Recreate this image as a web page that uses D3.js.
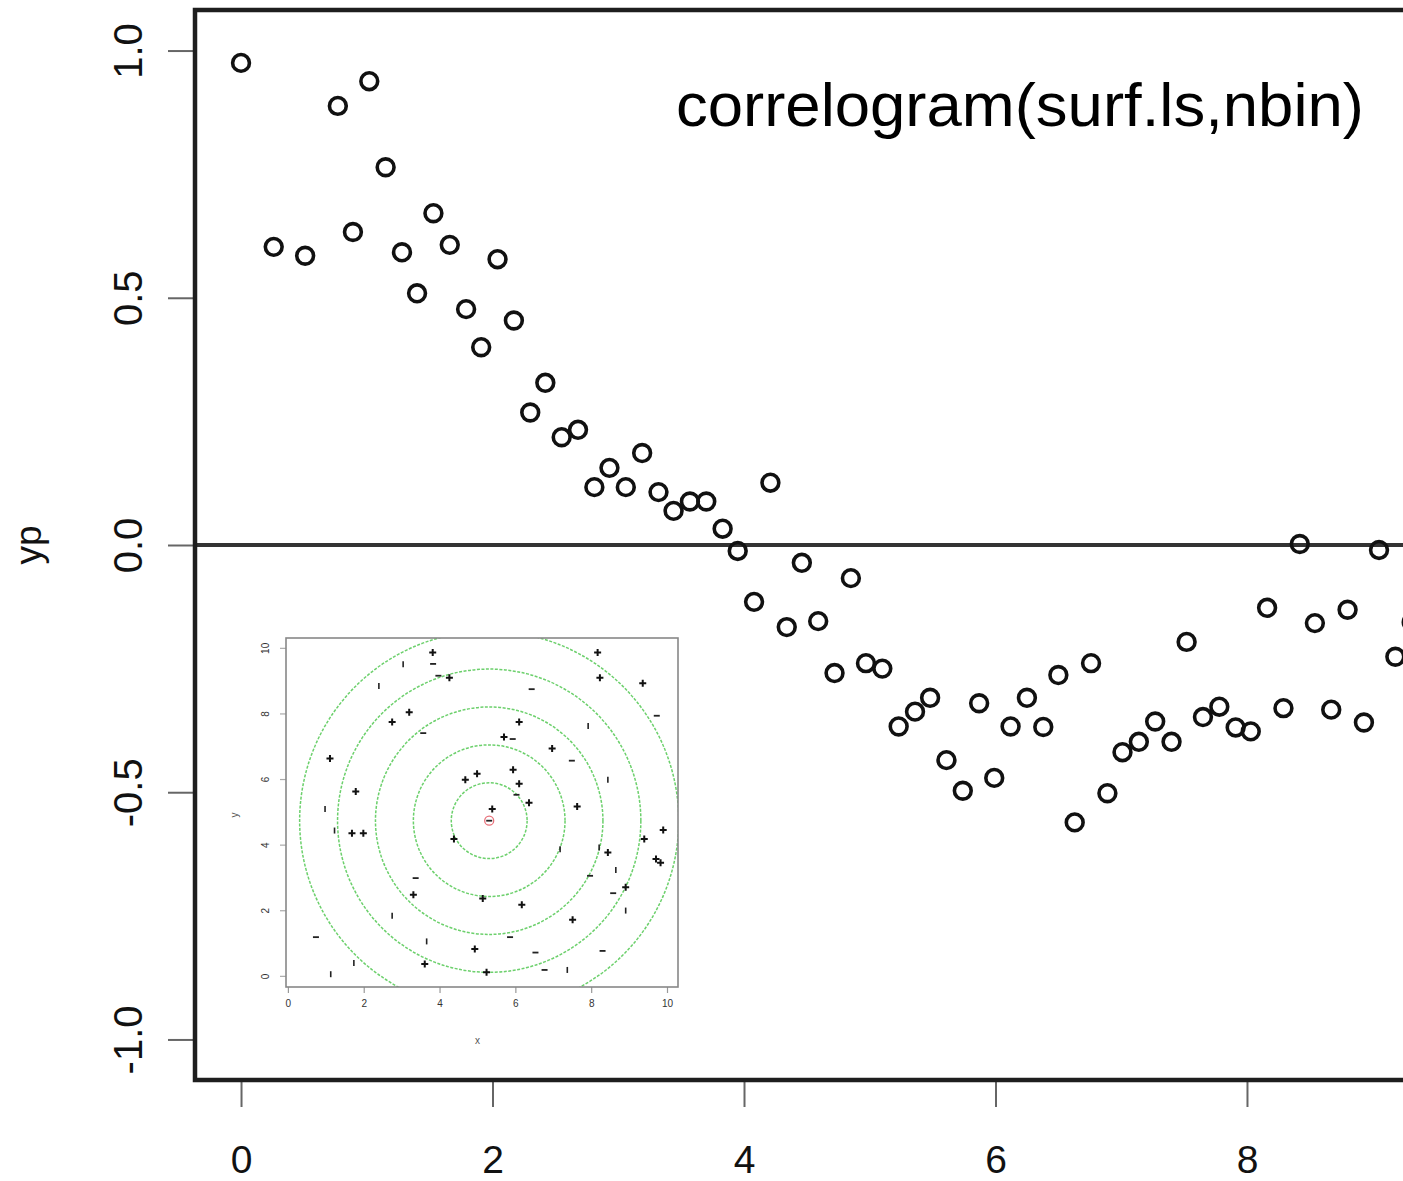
<!DOCTYPE html>
<html>
<head>
<meta charset="utf-8">
<script src="https://cdnjs.cloudflare.com/ajax/libs/d3/7.8.5/d3.min.js"></script>
<style>
  html, body { margin: 0; padding: 0; background: #fff; }
  svg { display: block; font-family: "Liberation Sans", Arial, Helvetica, sans-serif; }
</style>
</head>
<body>
<svg id="chart" width="1403" height="1181"></svg>
<script>
// ---- correlogram: distance-class centres and correlation values ----
const lagDist = [0.00, 0.26, 0.51, 0.77, 0.89, 1.02, 1.15, 1.28, 1.40, 1.53,
  1.66, 1.79, 1.91, 2.04, 2.17, 2.30, 2.42, 2.55, 2.68, 2.81,
  2.93, 3.06, 3.19, 3.32, 3.44, 3.57, 3.70, 3.83, 3.95, 4.08,
  4.21, 4.34, 4.46, 4.59, 4.72, 4.85, 4.97, 5.10, 5.23, 5.36,
  5.48, 5.61, 5.74, 5.87, 5.99, 6.12, 6.25, 6.38, 6.50, 6.63,
  6.76, 6.89, 7.01, 7.14, 7.27, 7.40, 7.52, 7.65, 7.78, 7.91,
  8.03, 8.16, 8.29, 8.42, 8.54, 8.67, 8.80, 8.93, 9.05, 9.18, 9.31];
const corrValues = [0.975, 0.603, 0.585, 0.888, 0.633, 0.938, 0.764, 0.592, 0.509, 0.671,
  0.607, 0.477, 0.400, 0.578, 0.454, 0.268, 0.328, 0.218, 0.233, 0.117,
  0.156, 0.117, 0.186, 0.107, 0.069, 0.088, 0.088, 0.033, -0.012, -0.115,
  0.126, -0.166, -0.036, -0.154, -0.259, -0.067, -0.239, -0.250, -0.367, -0.337,
  -0.309, -0.435, -0.497, -0.320, -0.471, -0.367, -0.309, -0.368, -0.263, -0.561,
  -0.239, -0.502, -0.419, -0.398, -0.357, -0.398, -0.196, -0.348, -0.327, -0.369,
  -0.377, -0.127, -0.330, 0.002, -0.158, -0.333, -0.131, -0.359, -0.010, -0.226, -0.156];
const xTickValues = [0, 2, 4, 6, 8];
const yTickValues = [-1.0, -0.5, 0.0, 0.5, 1.0];
const yAxisTitle = "yp";
const plotTitle = "correlogram(surf.ls,nbin)";

// ---- inset map: sample locations by residual sign, with distance rings ----
const plusX = [3.82, 8.17, 4.26, 8.23, 9.36, 3.20, 2.75, 6.10, 5.70, 6.97, 1.11, 5.94, 4.99, 4.68,
  6.10, 1.79, 6.36, 7.63, 5.39, 9.90, 1.69, 1.99, 4.38, 9.40, 8.44, 9.71, 9.83, 8.91, 3.31,
  5.14, 6.17, 7.51, 4.93, 3.61, 5.24];
const plusY = [9.86, 9.86, 9.09, 9.09, 8.92, 8.04, 7.74, 7.74, 7.28, 6.93, 6.63, 6.28, 6.16, 5.98,
  5.86, 5.62, 5.28, 5.16, 5.09, 4.45, 4.35, 4.35, 4.17, 4.17, 3.76, 3.56, 3.45, 2.70, 2.47,
  2.36, 2.17, 1.71, 0.82, 0.36, 0.11];
const minusX = [3.83, 3.97, 6.43, 9.73, 3.57, 5.93, 7.49, 6.03, 5.31, 7.97, 3.37, 8.58, 0.74, 5.86,
  6.53, 8.30, 6.77];
const minusY = [9.51, 9.15, 8.74, 7.93, 7.40, 7.22, 6.56, 5.52, 4.73, 3.05, 2.98, 2.52, 1.18, 1.18,
  0.71, 0.76, 0.18];
const barX = [3.04, 2.40, 7.92, 8.44, 0.98, 1.23, 7.18, 8.21, 8.65, 2.75, 8.91, 3.66, 1.74, 1.13, 7.37];
const barY = [9.50, 8.84, 7.62, 5.98, 5.09, 4.43, 3.86, 3.91, 3.23, 1.83, 1.99, 1.05, 0.39, 0.05, 0.18];
const ringCentre = [5.31, 4.73];
const ringRadii = [1, 2, 3, 4, 5];
const insetTicks = [0, 2, 4, 6, 8, 10];

const svg = d3.select("#chart");

// ---- main panel ----
const frame = { left: 195, top: 10, right: 1440, bottom: 1080 };
const x = d3.scaleLinear().domain([-0.366, 9.535]).range([frame.left, frame.right]);
const y = d3.scaleLinear().domain([-1.082, 1.082]).range([frame.bottom, frame.top]);

// y axis
const yAxis = svg.append("g")
  .attr("transform", `translate(${frame.left},0)`)
  .call(d3.axisLeft(y).tickValues(yTickValues).tickSize(27).tickFormat(d => d.toFixed(1)));
yAxis.select(".domain").remove();
yAxis.selectAll(".tick line").attr("stroke", "#666").attr("stroke-width", 2);
yAxis.selectAll(".tick text")
  .attr("transform", "rotate(-90)")
  .attr("x", 0).attr("y", -53).attr("dy", 0)
  .attr("text-anchor", "middle")
  .attr("font-size", 40).attr("fill", "#111")
  .attr("font-family", "'Liberation Sans', Arial, sans-serif");

// x axis
const xAxis = svg.append("g")
  .attr("transform", `translate(0,${frame.bottom})`)
  .call(d3.axisBottom(x).tickValues(xTickValues).tickSize(27).tickFormat(d3.format("d")));
xAxis.select(".domain").remove();
xAxis.selectAll(".tick line").attr("stroke", "#666").attr("stroke-width", 2);
xAxis.selectAll(".tick text")
  .attr("y", 93).attr("dy", 0)
  .attr("font-size", 39).attr("fill", "#111")
  .attr("font-family", "'Liberation Sans', Arial, sans-serif");

// axis title
svg.append("text")
  .attr("transform", `translate(41,${y(0)}) rotate(-90)`)
  .attr("text-anchor", "middle")
  .attr("font-size", 37).attr("fill", "#111")
  .text(yAxisTitle);

// zero reference line
svg.append("line")
  .attr("x1", frame.left).attr("x2", frame.right)
  .attr("y1", y(0)).attr("y2", y(0))
  .attr("stroke", "#333").attr("stroke-width", 4);

// plot frame
svg.append("rect")
  .attr("x", frame.left).attr("y", frame.top)
  .attr("width", frame.right - frame.left).attr("height", frame.bottom - frame.top)
  .attr("fill", "none").attr("stroke", "#1e1e1e").attr("stroke-width", 4.5);

// correlogram points
svg.append("g").selectAll("circle")
  .data(d3.zip(lagDist, corrValues))
  .join("circle")
  .attr("cx", d => x(d[0])).attr("cy", d => y(d[1]))
  .attr("r", 8.4)
  .attr("fill", "none").attr("stroke", "#111").attr("stroke-width", 3.6);

// title
svg.append("text")
  .attr("x", 676).attr("y", 126)
  .attr("font-size", 61).attr("fill", "#000")
  .attr("textLength", 688).attr("lengthAdjust", "spacingAndGlyphs")
  .text(plotTitle);

// ---- inset panel ----
const inset = { left: 286, top: 638, right: 678, bottom: 987 };
const ix = d3.scaleLinear().domain([-0.05, 10.29]).range([inset.left, inset.right]);
const iy = d3.scaleLinear().domain([-0.34, 10.3]).range([inset.bottom, inset.top]);
const ig = svg.append("g");

ig.append("rect")
  .attr("x", inset.left).attr("y", inset.top)
  .attr("width", inset.right - inset.left).attr("height", inset.bottom - inset.top)
  .attr("fill", "#fff");

ig.append("clipPath").attr("id", "insetClip")
  .append("rect")
  .attr("x", inset.left).attr("y", inset.top)
  .attr("width", inset.right - inset.left).attr("height", inset.bottom - inset.top);

// distance rings around the focal location
ig.append("g").attr("clip-path", "url(#insetClip)")
  .selectAll("circle")
  .data(ringRadii)
  .join("circle")
  .attr("cx", ix(ringCentre[0])).attr("cy", iy(ringCentre[1]))
  .attr("r", d => ix(d) - ix(0))
  .attr("fill", "none").attr("stroke", "#5ccb5c").attr("stroke-width", 1.5)
  .attr("stroke-dasharray", "3,1.5").attr("opacity", 0.9);

// inset axes
const ixAxis = ig.append("g")
  .attr("transform", `translate(0,${inset.bottom})`)
  .call(d3.axisBottom(ix).tickValues(insetTicks).tickSize(6).tickFormat(d3.format("d")));
ixAxis.select(".domain").remove();
ixAxis.selectAll(".tick line").attr("stroke", "#999").attr("stroke-width", 1.2);
ixAxis.selectAll(".tick text").attr("y", 20).attr("dy", 0)
  .attr("font-size", 10).attr("fill", "#333");

const iyAxis = ig.append("g")
  .attr("transform", `translate(${inset.left},0)`)
  .call(d3.axisLeft(iy).tickValues(insetTicks).tickSize(6).tickFormat(d3.format("d")));
iyAxis.select(".domain").remove();
iyAxis.selectAll(".tick line").attr("stroke", "#aaa").attr("stroke-width", 1.2);
iyAxis.selectAll(".tick text")
  .attr("transform", "rotate(-90)")
  .attr("x", 0).attr("y", -17).attr("dy", 0)
  .attr("text-anchor", "middle")
  .attr("font-size", 10).attr("fill", "#333");

ig.append("text").attr("x", ix(5)).attr("y", 1044)
  .attr("text-anchor", "middle").attr("font-size", 10).attr("fill", "#555").text("x");
ig.append("text")
  .attr("transform", `translate(238,${iy(4.9)}) rotate(-90)`)
  .attr("text-anchor", "middle").attr("font-size", 10).attr("fill", "#555").text("y");

ig.append("rect")
  .attr("x", inset.left).attr("y", inset.top)
  .attr("width", inset.right - inset.left).attr("height", inset.bottom - inset.top)
  .attr("fill", "none").attr("stroke", "#888").attr("stroke-width", 1.6);

// focal location
ig.append("circle")
  .attr("cx", ix(ringCentre[0])).attr("cy", iy(ringCentre[1]))
  .attr("r", 4.5).attr("fill", "none").attr("stroke", "#e8707a").attr("stroke-width", 1.3);

// positive residuals
const plusPath = "M-3.5,0H3.5M0,-3.5V3.5";
ig.append("g").selectAll("path.plus")
  .data(d3.zip(plusX, plusY))
  .join("path")
  .attr("class", "plus")
  .attr("transform", d => `translate(${ix(d[0])},${iy(d[1])})`)
  .attr("d", plusPath)
  .attr("stroke", "#111").attr("stroke-width", 2);

// negative residuals
ig.append("g").selectAll("path.minus")
  .data(d3.zip(minusX, minusY))
  .join("path")
  .attr("class", "minus")
  .attr("transform", d => `translate(${ix(d[0])},${iy(d[1])})`)
  .attr("d", "M-3,0H3")
  .attr("stroke", "#222").attr("stroke-width", 1.8);

// near-zero residuals
ig.append("g").selectAll("path.bar")
  .data(d3.zip(barX, barY))
  .join("path")
  .attr("class", "bar")
  .attr("transform", d => `translate(${ix(d[0])},${iy(d[1])})`)
  .attr("d", "M0,-3V3")
  .attr("stroke", "#222").attr("stroke-width", 1.6);
</script>
</body>
</html>
